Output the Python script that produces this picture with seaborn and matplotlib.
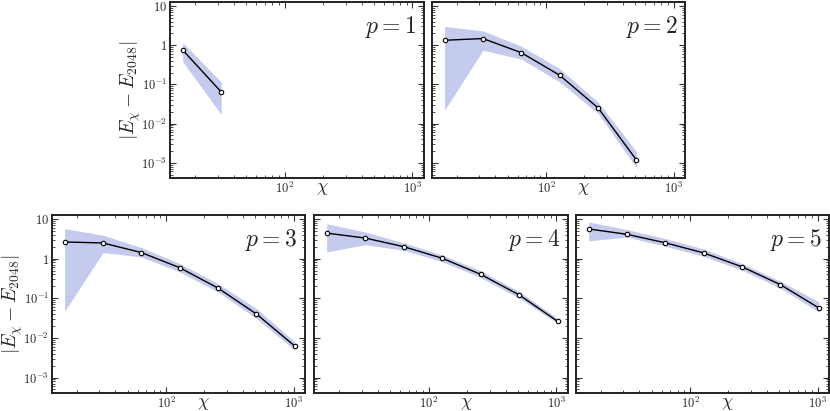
import numpy as np
import pandas as pd
import matplotlib
matplotlib.use('Agg')
import matplotlib.pyplot as plt
import seaborn as sns
from matplotlib.ticker import LogLocator, FixedLocator, FixedFormatter, NullFormatter

sns.set_style('ticks')
plt.rcParams['mathtext.fontset'] = 'cm'
plt.rcParams['font.family'] = ['DejaVu Serif']

chi = [16, 32, 64, 128, 256, 512, 1024]

# p = 1 .. 5 : mean error and band (lower / upper)
err_p1 = [0.75, 0.064]
lo_p1 = [0.38, 0.017]
hi_p1 = [1.16, 0.115]

err_p2 = [1.33, 1.47, 0.64, 0.17, 0.025, 0.00117]
lo_p2 = [0.022, 0.74, 0.44, 0.115, 0.018, 0.00074]
hi_p2 = [3.0, 2.3, 0.94, 0.25, 0.035, 0.0019]

err_p3 = [2.63, 2.48, 1.42, 0.59, 0.18, 0.040, 0.0062]
lo_p3 = [0.047, 1.42, 1.1, 0.46, 0.144, 0.031, 0.0049]
hi_p3 = [5.7, 3.9, 1.9, 0.75, 0.234, 0.055, 0.0079]

err_p4 = [4.4, 3.3, 2.0, 1.02, 0.40, 0.121, 0.026]
lo_p4 = [1.47, 2.25, 1.62, 0.84, 0.33, 0.10, 0.023]
hi_p4 = [7.6, 4.7, 2.5, 1.24, 0.49, 0.147, 0.031]

err_p5 = [5.6, 4.1, 2.5, 1.39, 0.62, 0.22, 0.057]
lo_p5 = [2.8, 3.5, 2.05, 1.14, 0.51, 0.18, 0.045]
hi_p5 = [8.4, 5.4, 3.2, 1.75, 0.75, 0.27, 0.081]

panels = [
    (1, err_p1, lo_p1, hi_p1),
    (2, err_p2, lo_p2, hi_p2),
    (3, err_p3, lo_p3, hi_p3),
    (4, err_p4, lo_p4, hi_p4),
    (5, err_p5, lo_p5, hi_p5),
]

W, H = 830, 411
# axes boxes in pixels: left, top, right, bottom
boxes = [
    (170, 2, 424, 178),
    (432, 2, 685, 178),
    (52, 215, 305, 393),
    (314, 215, 568, 393),
    (576, 215, 829, 393),
]

fig = plt.figure(figsize=(8.3, 4.11), dpi=100)
band_color = '#c5cbec'

for (p, err, lo, hi), (l, t, r, b) in zip(panels, boxes):
    ax = fig.add_axes([l / W, 1 - b / H, (r - l) / W, (b - t) / H])
    x = chi[:len(err)]
    ax.fill_between(x, lo, hi, color=band_color, lw=0, zorder=1)
    df = pd.DataFrame({'chi': x, 'err': err})
    sns.lineplot(data=df, x='chi', y='err', ax=ax, color='black', lw=1.0,
                 marker='o', markersize=3.2, markerfacecolor='white',
                 markeredgecolor='black', markeredgewidth=0.8, zorder=3)
    ax.set_xscale('log')
    ax.set_yscale('log')
    ax.set_xlim(10 ** 1.105, 10 ** 3.09)
    ax.set_ylim(10 ** -3.39, 10 ** 1.1)

    ax.xaxis.set_major_locator(FixedLocator([100, 1000]))
    ax.xaxis.set_major_formatter(FixedFormatter([r'$10^2$', r'$10^3$']))
    ax.xaxis.set_minor_locator(LogLocator(base=10, subs=np.arange(2, 10)))
    ax.xaxis.set_minor_formatter(NullFormatter())
    ax.yaxis.set_major_locator(FixedLocator([1e-3, 1e-2, 1e-1, 1, 10]))
    ax.yaxis.set_minor_locator(LogLocator(base=10, subs=np.arange(2, 10)))
    ax.yaxis.set_minor_formatter(NullFormatter())
    if p in (1, 3):
        ax.yaxis.set_major_formatter(FixedFormatter(
            [r'$10^{-3}$', r'$10^{-2}$', r'$10^{-1}$', r'$1$', r'$10$']))
        ax.set_ylabel(r'$|E_\chi - E_{2048}|$', fontsize=14, labelpad=-1)
    else:
        ax.yaxis.set_major_formatter(NullFormatter())
        ax.set_ylabel('')

    ax.tick_params(which='both', direction='in', top=True, right=True,
                   labelsize=9, pad=2, color='#333333')
    ax.tick_params(which='major', length=4, width=0.8)
    ax.tick_params(which='minor', length=2, width=0.6)
    for s in ax.spines.values():
        s.set_linewidth(1.4)
        s.set_color('#222222')

    ax.set_xlabel(r'$\chi$', fontsize=13)
    ax.xaxis.set_label_coords(0.6, -0.005)
    ax.text(0.97, 0.93, r'$p = %d$' % p, transform=ax.transAxes,
            ha='right', va='top', fontsize=17)

fig.savefig('out.png', dpi=100)
